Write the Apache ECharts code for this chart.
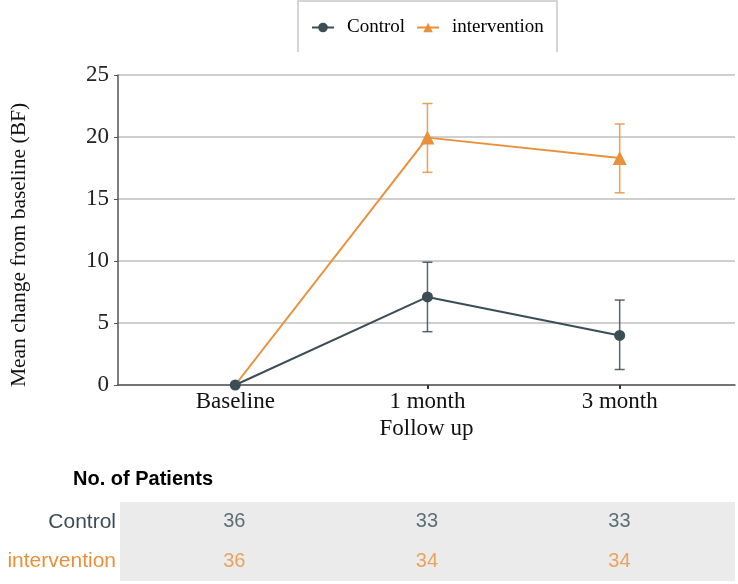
<!DOCTYPE html>
<html><head><meta charset="utf-8">
<script src="https://cdn.jsdelivr.net/npm/echarts@6/dist/echarts.min.js"></script>
<style>html,body{margin:0;padding:0;background:#fff}#c{width:738px;height:584px}</style>
</head><body><div id="c"></div>
<script>
const categories = ['Baseline', '1 month', '3 month'];
const seriesNames = ['Control', 'intervention'];
const controlMean = [0, 7.1, 4.0];
const controlLow = [0, 4.3, 1.25];
const controlHigh = [0, 9.9, 6.85];
const interventionMean = [0, 19.95, 18.3];
const interventionLow = [0, 17.15, 15.5];
const interventionHigh = [0, 22.7, 21.05];
const controlPatients = [36, 33, 33];
const interventionPatients = [36, 34, 34];
const yTicks = [0, 5, 10, 15, 20, 25];

const cCol = '#3b4d56', iCol = '#e8913a';
const serif = 'Liberation Serif';
const sans = 'Liberation Sans';

function errSeries(name, low, high, color) {
  return {
    type: 'custom', name: name + '_err', xAxisIndex: 0, yAxisIndex: 0, z: 3,
    data: low.map((l, i) => [i, l, high[i]]).filter(d => d[2] > d[1]),
    renderItem: function (params, api) {
      const x = api.value(0);
      const top = api.coord([x, api.value(2)]);
      const bot = api.coord([x, api.value(1)]);
      const w = 5;
      const st = { stroke: color, lineWidth: 1.5, opacity: 0.85 };
      return { type: 'group', children: [
        { type: 'line', shape: { x1: top[0], y1: top[1], x2: bot[0], y2: bot[1] }, style: st },
        { type: 'line', shape: { x1: top[0] - w, y1: top[1], x2: top[0] + w, y2: top[1] }, style: st },
        { type: 'line', shape: { x1: bot[0] - w, y1: bot[1], x2: bot[0] + w, y2: bot[1] }, style: st }
      ]};
    },
    silent: true
  };
}

const chart = echarts.init(document.getElementById('c'), null, { renderer: 'canvas' });
chart.setOption({
  animation: false,
  backgroundColor: '#fff',
  title: { text: 'No. of Patients', left: 68, top: 464,
    textStyle: { fontFamily: sans, fontWeight: 'bold', fontSize: 20, color: '#000' } },
  legend: {
    data: seriesNames, top: 13, left: 306, padding: 5, itemGap: 11, itemWidth: 22, itemHeight: 12,
    textStyle: { fontFamily: serif, fontSize: 19, color: '#000', padding: [0, 0, 0, 8] }
  },
  graphic: [
    { type: 'polyline', shape: { points: [[298, 52], [298, 1], [557, 1], [557, 52]] },
      style: { stroke: '#c8c8c8', lineWidth: 1.5, fill: null }, silent: true }
  ],
  grid: [
    { left: 117, right: 3, top: 75, bottom: 199 },
    { left: 120, right: 3, top: 502, height: 79, show: true, backgroundColor: '#ebebeb', borderWidth: 0 }
  ],
  xAxis: [
    { type: 'value', gridIndex: 0, min: -0.61, max: 2.6,
      name: 'Follow up', nameLocation: 'middle', nameGap: 28,
      nameTextStyle: { fontFamily: serif, fontSize: 23, color: '#111' },
      axisLine: { show: true, onZero: false, lineStyle: { color: '#555', width: 1.5 } },
      axisTick: { show: true, customValues: [0, 1, 2], length: 4, lineStyle: { color: '#333', width: 2 } },
      axisLabel: { customValues: [0, 1, 2], formatter: v => categories[Math.round(v)], margin: 5,
        fontFamily: serif, fontSize: 23, color: '#111' },
      splitLine: { show: false } },
    { type: 'value', gridIndex: 1, min: -0.594, max: 2.6, show: false }
  ],
  yAxis: [
    { type: 'value', gridIndex: 0, min: 0, max: 25, interval: 5,
      name: 'Mean change from baseline (BF)', nameLocation: 'middle', nameGap: 88, nameRotate: 90,
      nameTextStyle: { fontFamily: serif, fontSize: 21.5, color: '#111', padding: [0, 30, 0, 0] },
      axisLine: { show: true, onZero: false, lineStyle: { color: '#555', width: 1.5 } },
      axisTick: { show: true, length: 4, lineStyle: { color: '#555' } },
      axisLabel: { fontFamily: serif, fontSize: 23, color: '#222', margin: 9,
        formatter: v => yTicks.includes(v) ? String(v) : '' },
      splitLine: { show: true, lineStyle: { color: '#cfcfcf', width: 2 } } },
    { type: 'category', gridIndex: 1, data: ['intervention', 'Control'],
      axisLine: { show: false }, axisTick: { show: false },
      axisLabel: { margin: 4, fontFamily: sans, fontSize: 21,
        formatter: v => '{' + (v === 'Control' ? 'c' : 'i') + '|' + v + '}',
        rich: { c: { color: cCol, fontFamily: sans, fontSize: 21 }, i: { color: iCol, fontFamily: sans, fontSize: 21 } } } }
  ],
  series: [
    errSeries('intervention', interventionLow, interventionHigh, iCol),
    errSeries('Control', controlLow, controlHigh, cCol),
    { name: 'intervention', type: 'line', xAxisIndex: 0, yAxisIndex: 0, z: 4,
      data: interventionMean.map((v, i) => [i, v]),
      symbol: 'triangle', symbolSize: (v, p) => p.dataIndex === 0 ? 0 : 14,
      itemStyle: { color: iCol }, lineStyle: { color: iCol, width: 2 } },
    { name: 'Control', type: 'line', xAxisIndex: 0, yAxisIndex: 0, z: 5,
      data: controlMean.map((v, i) => [i, v]),
      symbol: 'circle', symbolSize: 11,
      itemStyle: { color: cCol }, lineStyle: { color: cCol, width: 2 } },
    { type: 'scatter', xAxisIndex: 1, yAxisIndex: 1, symbolSize: 0, silent: true,
      data: controlPatients.map((v, i) => [i, 'Control', v]),
      label: { show: true, position: 'inside', formatter: p => String(p.value[2]),
        fontFamily: sans, fontSize: 20, color: cCol } },
    { type: 'scatter', xAxisIndex: 1, yAxisIndex: 1, symbolSize: 0, silent: true,
      data: interventionPatients.map((v, i) => [i, 'intervention', v]),
      label: { show: true, position: 'inside', formatter: p => String(p.value[2]),
        fontFamily: sans, fontSize: 20, color: iCol } }
  ]
});
</script></body></html>
